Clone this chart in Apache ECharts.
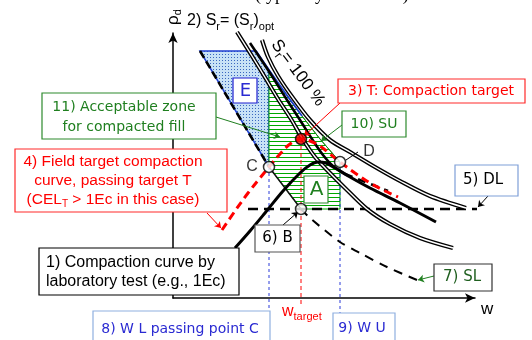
<!DOCTYPE html>
<html>
<head>
<meta charset="utf-8">
<script src="https://cdn.jsdelivr.net/npm/echarts@6/dist/echarts.min.js"></script>
<style>
html,body{margin:0;padding:0;background:#fff;}
#chart{width:532px;height:340px;}
</style>
</head>
<body>
<div id="chart"></div>
<script>
// Compaction control diagram: water content w (x) against dry density rho_d (y), arbitrary units.

// 1) laboratory compaction curve (1Ec)
const labCurve = [[62,50],[77,67],[92,85],[110,107],[127,125],[137,133],[145,136],[153,135],[162,130],[177,121],[197,110],[227,95],[263,76]];
// 4) field target compaction curve through T
const fieldCurve = [[49,68],[62,87],[75,105],[87,120],[96,131],[107,144],[117,154],[128,159],[137,157],[147,152],[157,144],[167,136],[182,125],[197,115],[212,107],[225,101]];
// Sr = 100 %
const srFull = [[89,258],[95,241],[105,222],[120,200],[137,178],[157,158],[177,146],[202,131],[227,117],[257,102],[293,90]];
// 2) Sr = (Sr)opt
const srOpt = [[64,266],[79,242],[93,219],[105,199],[118,179],[129,160],[142,141],[154,128],[172,110],[194,89],[217,74],[247,60],[280,50]];
// line of optimum
const optLine = [[77,255],[97,225],[114,198],[127,178],[139,159],[150,143],[160,132],[172,124]];
const optLineTail = [[172,124],[215,107]];
// 10) SU
const suUpper = [[83,247],[96,228],[113,204],[129,182]];
const suLower = [[129,182],[147,159],[167,136]];
// 7) SL
const slUpper = [[27,247],[96,131]];
const slMid = [[96,131],[128,89]];
const slLower = [[128,89],[137,80],[167,56],[187,45],[214,31],[244,18]];
// 5) DL
const dlLine = [[75,89],[315,89]];
// zones
const zoneE = [[27,247],[83,247],[96,228],[96,131]];
const zoneAcceptable = [[96,228],[113,204],[129,182],[147,159],[167,136],[167,89],[128,89],[96,131]];
// key points
const pointC = [96,131];
const pointD = [167,136];
const pointB = [128,89];
const pointT = [128,159];
// vertical water-content guides
const guideWL = [[96,131],[96,-13]];
const guideWU = [[167,136],[167,-15]];
const guideTarget = [[128,159],[128,-9]];
// annotation leaders: [from, to]
const leader11 = [[43,181],[107,161]];
const leader4 = [[34,85],[48,70]];
const leader3 = [[167,195],[131,162]];
const leader10 = [[169,173],[148,157]];
const leader5 = [[315,102],[305,91]];
const leader6 = [[110,73],[125,86]];
const leader7 = [[261,22],[245,18]];
const leaderD = [[173,138],[185,146]];

function makeHatch() {
  const c = document.createElement('canvas');
  c.width = 4; c.height = 4;
  const g = c.getContext('2d');
  g.fillStyle = '#ffffff'; g.fillRect(0, 0, 4, 4);
  g.fillStyle = '#00a800'; g.fillRect(0, 1, 4, 1);
  return c;
}
function makeStipple() {
  const c = document.createElement('canvas');
  c.width = 3; c.height = 3;
  const g = c.getContext('2d');
  g.fillStyle = '#c8e2f6'; g.fillRect(0, 0, 3, 3);
  g.fillStyle = '#3a68c0'; g.fillRect(0, 0, 1, 1);
  return c;
}

function polygonSeries(points, fill, stroke, lw, z) {
  return {
    type: 'custom', coordinateSystem: 'cartesian2d', silent: true, z: z, clip: false,
    data: [[0, 0]],
    renderItem: function (params, api) {
      return {
        type: 'polygon',
        shape: { points: points.map(function (p) { return api.coord(p); }) },
        style: { fill: fill, stroke: stroke, lineWidth: lw }
      };
    }
  };
}
function lineSeries(data, color, width, type, z, smooth) {
  return {
    type: 'line', data: data, symbol: 'none', clip: false, silent: true, z: z,
    smooth: smooth || false,
    lineStyle: { color: color, width: width, type: type || 'solid', cap: 'butt' }
  };
}
function doubleLine(data, z) {
  return [
    lineSeries(data, '#000', 4.2, 'solid', z, 0.3),
    lineSeries(data, '#fff', 1.4, 'solid', z + 0.1, 0.3)
  ];
}
function leaderSeries(list, color, arrow) {
  return {
    type: 'lines', coordinateSystem: 'cartesian2d', clip: false, silent: true, z: 20,
    symbol: arrow ? ['none', 'arrow'] : ['none', 'none'], symbolSize: 6,
    lineStyle: { color: color, width: 1, opacity: 1, curveness: 0 },
    data: list.map(function (s) { return { coords: s }; })
  };
}

const GREEN = '#1f7f1f', RED = '#ff0000', BLUE = '#2a2ad2';
const SANS = '"Liberation Sans", Arial, sans-serif';
const GOTH = '"DejaVu Sans", sans-serif';

const series = [
  polygonSeries(zoneE, { image: makeStipple(), repeat: 'repeat' }, '#1f3fd0', 1.5, 1),
  polygonSeries(zoneAcceptable, { image: makeHatch(), repeat: 'repeat' }, '#00a000', 1, 1),
  lineSeries(suUpper, '#1f3fd0', 1.8, 'solid', 3),
  lineSeries(suLower, GREEN, 1, 'solid', 3),
  lineSeries(guideWL, '#2a3ad8', 1, [3, 3], 3),
  lineSeries(guideWU, '#2a3ad8', 1, [3, 3], 3),
  lineSeries(guideTarget, RED, 1, [4, 3], 3),
  lineSeries(dlLine, '#000', 2.6, [10, 6], 4),
  lineSeries(slUpper, '#000', 2.6, [8, 4], 4),
  lineSeries(slMid, '#111', 1.5, 'solid', 4),
  lineSeries(slLower, '#000', 2, [9, 7], 4, 0.3),
  ...doubleLine(srFull, 5),
  ...doubleLine(srOpt, 5),
  lineSeries(optLine, '#000', 2.6, 'solid', 6, 0.3),
  lineSeries(optLineTail, '#000', 2.6, [8, 6], 6),
  lineSeries(labCurve, '#000', 3, 'solid', 7, 0.35),
  lineSeries(fieldCurve, RED, 3, [8, 5], 8, 0.35),
  leaderSeries([leader11, leader10, leader7], GREEN, true),
  leaderSeries([leader4, leader3], RED, true),
  leaderSeries([leader5, leader6], '#000', true),
  leaderSeries([leaderD], '#000', false),
  {
    type: 'scatter', z: 30, clip: false, silent: true, symbolSize: 11,
    itemStyle: { color: '#fff', borderColor: '#000', borderWidth: 1.5 },
    data: [
      { value: pointC, label: { show: true, formatter: 'C', position: 'left', distance: 5, fontFamily: SANS, fontSize: 16, color: '#000' } },
      { value: pointD, label: { show: true, formatter: 'D', position: 'right', offset: [12, -10], fontFamily: SANS, fontSize: 16, color: '#000' } },
      { value: pointB },
      { value: pointT, itemStyle: { color: '#ff0000', borderColor: '#000', borderWidth: 1.5 } }
    ]
  }
];

const graphics = [];
function box(x, y, w, h, stroke) {
  graphics.push({ type: 'rect', z: 100, shape: { x: x, y: y, width: w, height: h }, style: { fill: '#fff', stroke: stroke, lineWidth: 1.2 } });
}
function label(x, y, text, color, font, align, extra) {
  graphics.push({
    type: 'text', z: 101, x: x, y: y,
    style: Object.assign({
      text: text, fill: color, font: font,
      align: align || 'center', textAlign: align || 'center',
      verticalAlign: 'middle', textVerticalAlign: 'middle'
    }, extra || {})
  });
}

box(42, 93, 174, 46, '#2d8a2d');
label(124, 117, '11) Acceptable zone\nfor compacted fill', GREEN, '14px ' + GOTH, 'center', { lineHeight: 20 });
box(15, 149, 212, 63, '#ff2a2a');
label(113, 181, '4) Field target compaction\ncurve, passing target T\n(CEL{s|T} > 1Ec in this case)', RED, '15.5px ' + SANS, 'center',
  { lineHeight: 19, rich: { s: { fontSize: 10, fontFamily: SANS, fill: RED, verticalAlign: 'bottom', lineHeight: 10, padding: [9, 0, 0, 0] } } });
box(338, 79, 187, 24, '#ff2a2a');
label(431, 91, '3) T: Compaction target', RED, '14px ' + GOTH);
box(342, 111, 64, 26, '#2d8a2d');
label(374, 124, '10) SU', GREEN, '14px ' + GOTH);
box(455, 165, 63, 31, '#7f9fd8');
label(483, 180, '5) DL', '#000', '15px ' + GOTH);
box(255, 225, 45, 27, '#555');
label(277.5, 238.5, '6) B', '#000', '15px ' + GOTH);
box(39, 248, 200, 47, '#000');
label(46, 272, '1) Compaction curve by\nlaboratory test (e.g., 1Ec)', '#000', '16px ' + SANS, 'left', { lineHeight: 19 });
box(434, 264, 58, 27, '#333');
label(462, 277.5, '7) SL', '#1f5f1f', '15px ' + GOTH);
box(93, 311, 177, 40, '#8fb0e0');
label(180, 329, '8) W L passing point C', BLUE, '14px ' + GOTH);
box(333, 313, 62, 40, '#8fb0e0');
label(362, 328, '9) W U', BLUE, '14px ' + GOTH);
box(233, 78, 24, 25, '#1f1fcf');
label(245.5, 91, 'E', BLUE, '18px ' + GOTH);
box(304, 176, 24, 27, '#2d8a2d');
label(316.5, 190, 'A', GREEN, '20px ' + GOTH);

// header and curve names
label(255, 4, '(typically 80 ~ 90 %)', '#000', '18px "Liberation Serif", serif', 'left', { verticalAlign: 'bottom', textVerticalAlign: 'bottom' });
label(187, 21, '{n|2) S}{s|r}{n|= (S}{s|r}{n|)}{s|opt}', '#000', '16px ' + SANS, 'left', {
  rich: {
    n: { fontSize: 16, fontFamily: SANS, fill: '#000', verticalAlign: 'top', lineHeight: 16 },
    s: { fontSize: 11, fontFamily: SANS, fill: '#000', verticalAlign: 'top', lineHeight: 11, padding: [8, 0, 0, 0] }
  }
});
graphics.push({
  type: 'text', z: 101, x: 298, y: 73, rotation: -0.93,
  style: {
    text: '{n|S}{s|r}{n|= 100 %}', align: 'center', textAlign: 'center', verticalAlign: 'middle', textVerticalAlign: 'middle',
    rich: {
      n: { fontSize: 17, fontFamily: SANS, fill: '#000', verticalAlign: 'top', lineHeight: 17 },
      s: { fontSize: 12, fontFamily: SANS, fill: '#000', verticalAlign: 'top', lineHeight: 12, padding: [8, 0, 0, 0] }
    }
  }
});
label(282, 312, '{n|w}{s|target}', RED, '16px ' + SANS, 'left', {
  rich: {
    n: { fontSize: 16, fontFamily: SANS, fill: RED, verticalAlign: 'top', lineHeight: 16 },
    s: { fontSize: 11, fontFamily: SANS, fill: RED, verticalAlign: 'top', lineHeight: 11, padding: [7, 0, 0, 0] }
  }
});

const chart = echarts.init(document.getElementById('chart'), null, { renderer: 'canvas' });
chart.setOption({
  animation: false,
  backgroundColor: '#fff',
  grid: { left: 173, top: 33, width: 302, height: 265 },
  xAxis: {
    type: 'value', min: 0, max: 302,
    name: 'w', nameLocation: 'end', nameGap: 6,
    nameTextStyle: { fontFamily: SANS, fontSize: 17, color: '#000', verticalAlign: 'top', padding: [3, 0, 0, 0] },
    axisLine: { show: true, onZero: false, symbol: ['none', 'arrow'], symbolSize: [7, 10], lineStyle: { color: '#000', width: 1.5 } },
    axisTick: { show: false }, axisLabel: { show: false }, splitLine: { show: false }
  },
  yAxis: {
    type: 'value', min: 0, max: 265,
    name: '{n|ρ}{s|d}', nameLocation: 'end', nameGap: 8, nameRotate: 90,
    nameTextStyle: {
      rich: {
        n: { fontSize: 17, fontFamily: SANS, color: '#000', verticalAlign: 'top', lineHeight: 17 },
        s: { fontSize: 11, fontFamily: SANS, color: '#000', verticalAlign: 'top', lineHeight: 11, padding: [8, 0, 0, 0] }
      }
    },
    axisLine: { show: true, onZero: false, symbol: ['none', 'arrow'], symbolSize: [7, 10], lineStyle: { color: '#000', width: 1.5 } },
    axisTick: { show: false }, axisLabel: { show: false }, splitLine: { show: false }
  },
  series: series,
  graphic: { elements: graphics }
});
</script>
</body>
</html>
